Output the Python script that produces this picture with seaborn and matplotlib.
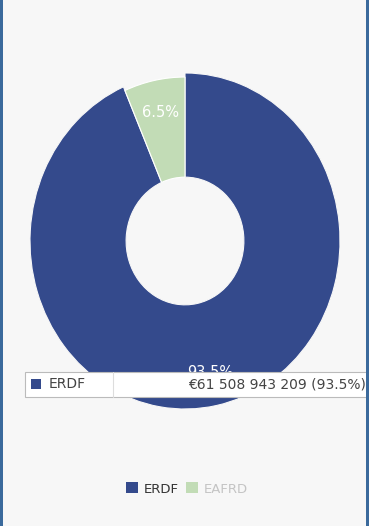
import matplotlib.pyplot as plt
import matplotlib.patches as mpatches
import seaborn as sns

# Funds and amounts (EUR)
funds = ["ERDF", "EAFRD"]
amounts = [61508943209, 4276000000]
colors = ["#344a8c", "#c2dcb6"]
legend_text_colors = ["#333333", "#c4c4c4"]

sns.set_theme(style="white")
plt.rcParams["font.family"] = ["DejaVu Sans"]

fig = plt.figure(figsize=(3.69, 5.26), dpi=100)
fig.patch.set_facecolor("#f7f7f7")

# axes placed so the donut is a little taller than wide, like the reference
W, H = 369, 526
cx, cy, rx, ry = 185, 241, 155, 168
ax = fig.add_axes([(cx - rx) / W, (H - cy - ry) / H, 2 * rx / W, 2 * ry / H])
ax.set_facecolor("none")

total = sum(amounts)
wedges, texts, autotexts = ax.pie(
    amounts,
    colors=colors,
    startangle=90,
    counterclock=False,
    radius=1,
    autopct="%1.1f%%",
    pctdistance=0.78,
    wedgeprops=dict(width=0.62, edgecolor="#f7f7f7", linewidth=0.8),
    textprops=dict(color="white", fontsize=10.5),
)
ax.set_aspect("auto")
ax.set_xlim(-1, 1)
ax.set_ylim(-1, 1)

# the non-hovered slice is slightly smaller
wedges[1].set_radius(0.976)
wedges[1].set_width(0.596)
wedges[1].set_edgecolor("white")

# the big label sits a bit further out (half hidden by the tooltip)
x0, y0 = autotexts[0].get_position()
autotexts[0].set_position((x0 * 0.80 / 0.78, y0 * 0.80 / 0.78))
autotexts[0].set_zorder(1)

# tooltip over the donut
tip_x0, tip_y0, tip_w, tip_h = 25, 372, 344, 25
fig.patches.append(mpatches.Rectangle(
    (tip_x0 / W, 1 - (tip_y0 + tip_h) / H), tip_w / W, tip_h / H,
    transform=fig.transFigure, facecolor="white", edgecolor="#bbbbbb",
    linewidth=0.8, zorder=10))
fig.add_artist(plt.Line2D([113 / W, 113 / W], [1 - (tip_y0 + tip_h) / H, 1 - tip_y0 / H],
                          transform=fig.transFigure, color="#dddddd", lw=0.8, zorder=11))
fig.patches.append(mpatches.Rectangle(
    (31 / W, 1 - 389 / H), 10 / W, 10 / H, transform=fig.transFigure,
    facecolor=colors[0], edgecolor="none", zorder=11))
fig.text(49 / W, 1 - 384.5 / H, funds[0], fontsize=10, color="#444444",
         va="center", ha="left", zorder=12)
amount_str = "€" + f"{amounts[0]:,}".replace(",", " ") + f" ({amounts[0] / total * 100:.1f}%)"
fig.text(366 / W, 1 - 384.5 / H, amount_str, fontsize=10, color="#444444",
         va="center", ha="right", zorder=12)

# legend
handles = [mpatches.Patch(facecolor=c, edgecolor="none") for c in colors]
leg = fig.legend(handles, funds, loc="center", bbox_to_anchor=(187 / W, 1 - 489 / H),
                 ncol=2, frameon=False, fontsize=9.5, handlelength=0.9, handleheight=0.9,
                 handletextpad=0.4, columnspacing=0.6)
for t, c in zip(leg.get_texts(), legend_text_colors):
    t.set_color(c)

# blue side borders
for x in [0, 1 - 3 / W]:
    fig.patches.append(mpatches.Rectangle((x, 0), 3 / W, 1, transform=fig.transFigure,
                                          facecolor="#3b6a9c", edgecolor="none", zorder=20))

fig.savefig("out.png", dpi=100)
plt.close(fig)
